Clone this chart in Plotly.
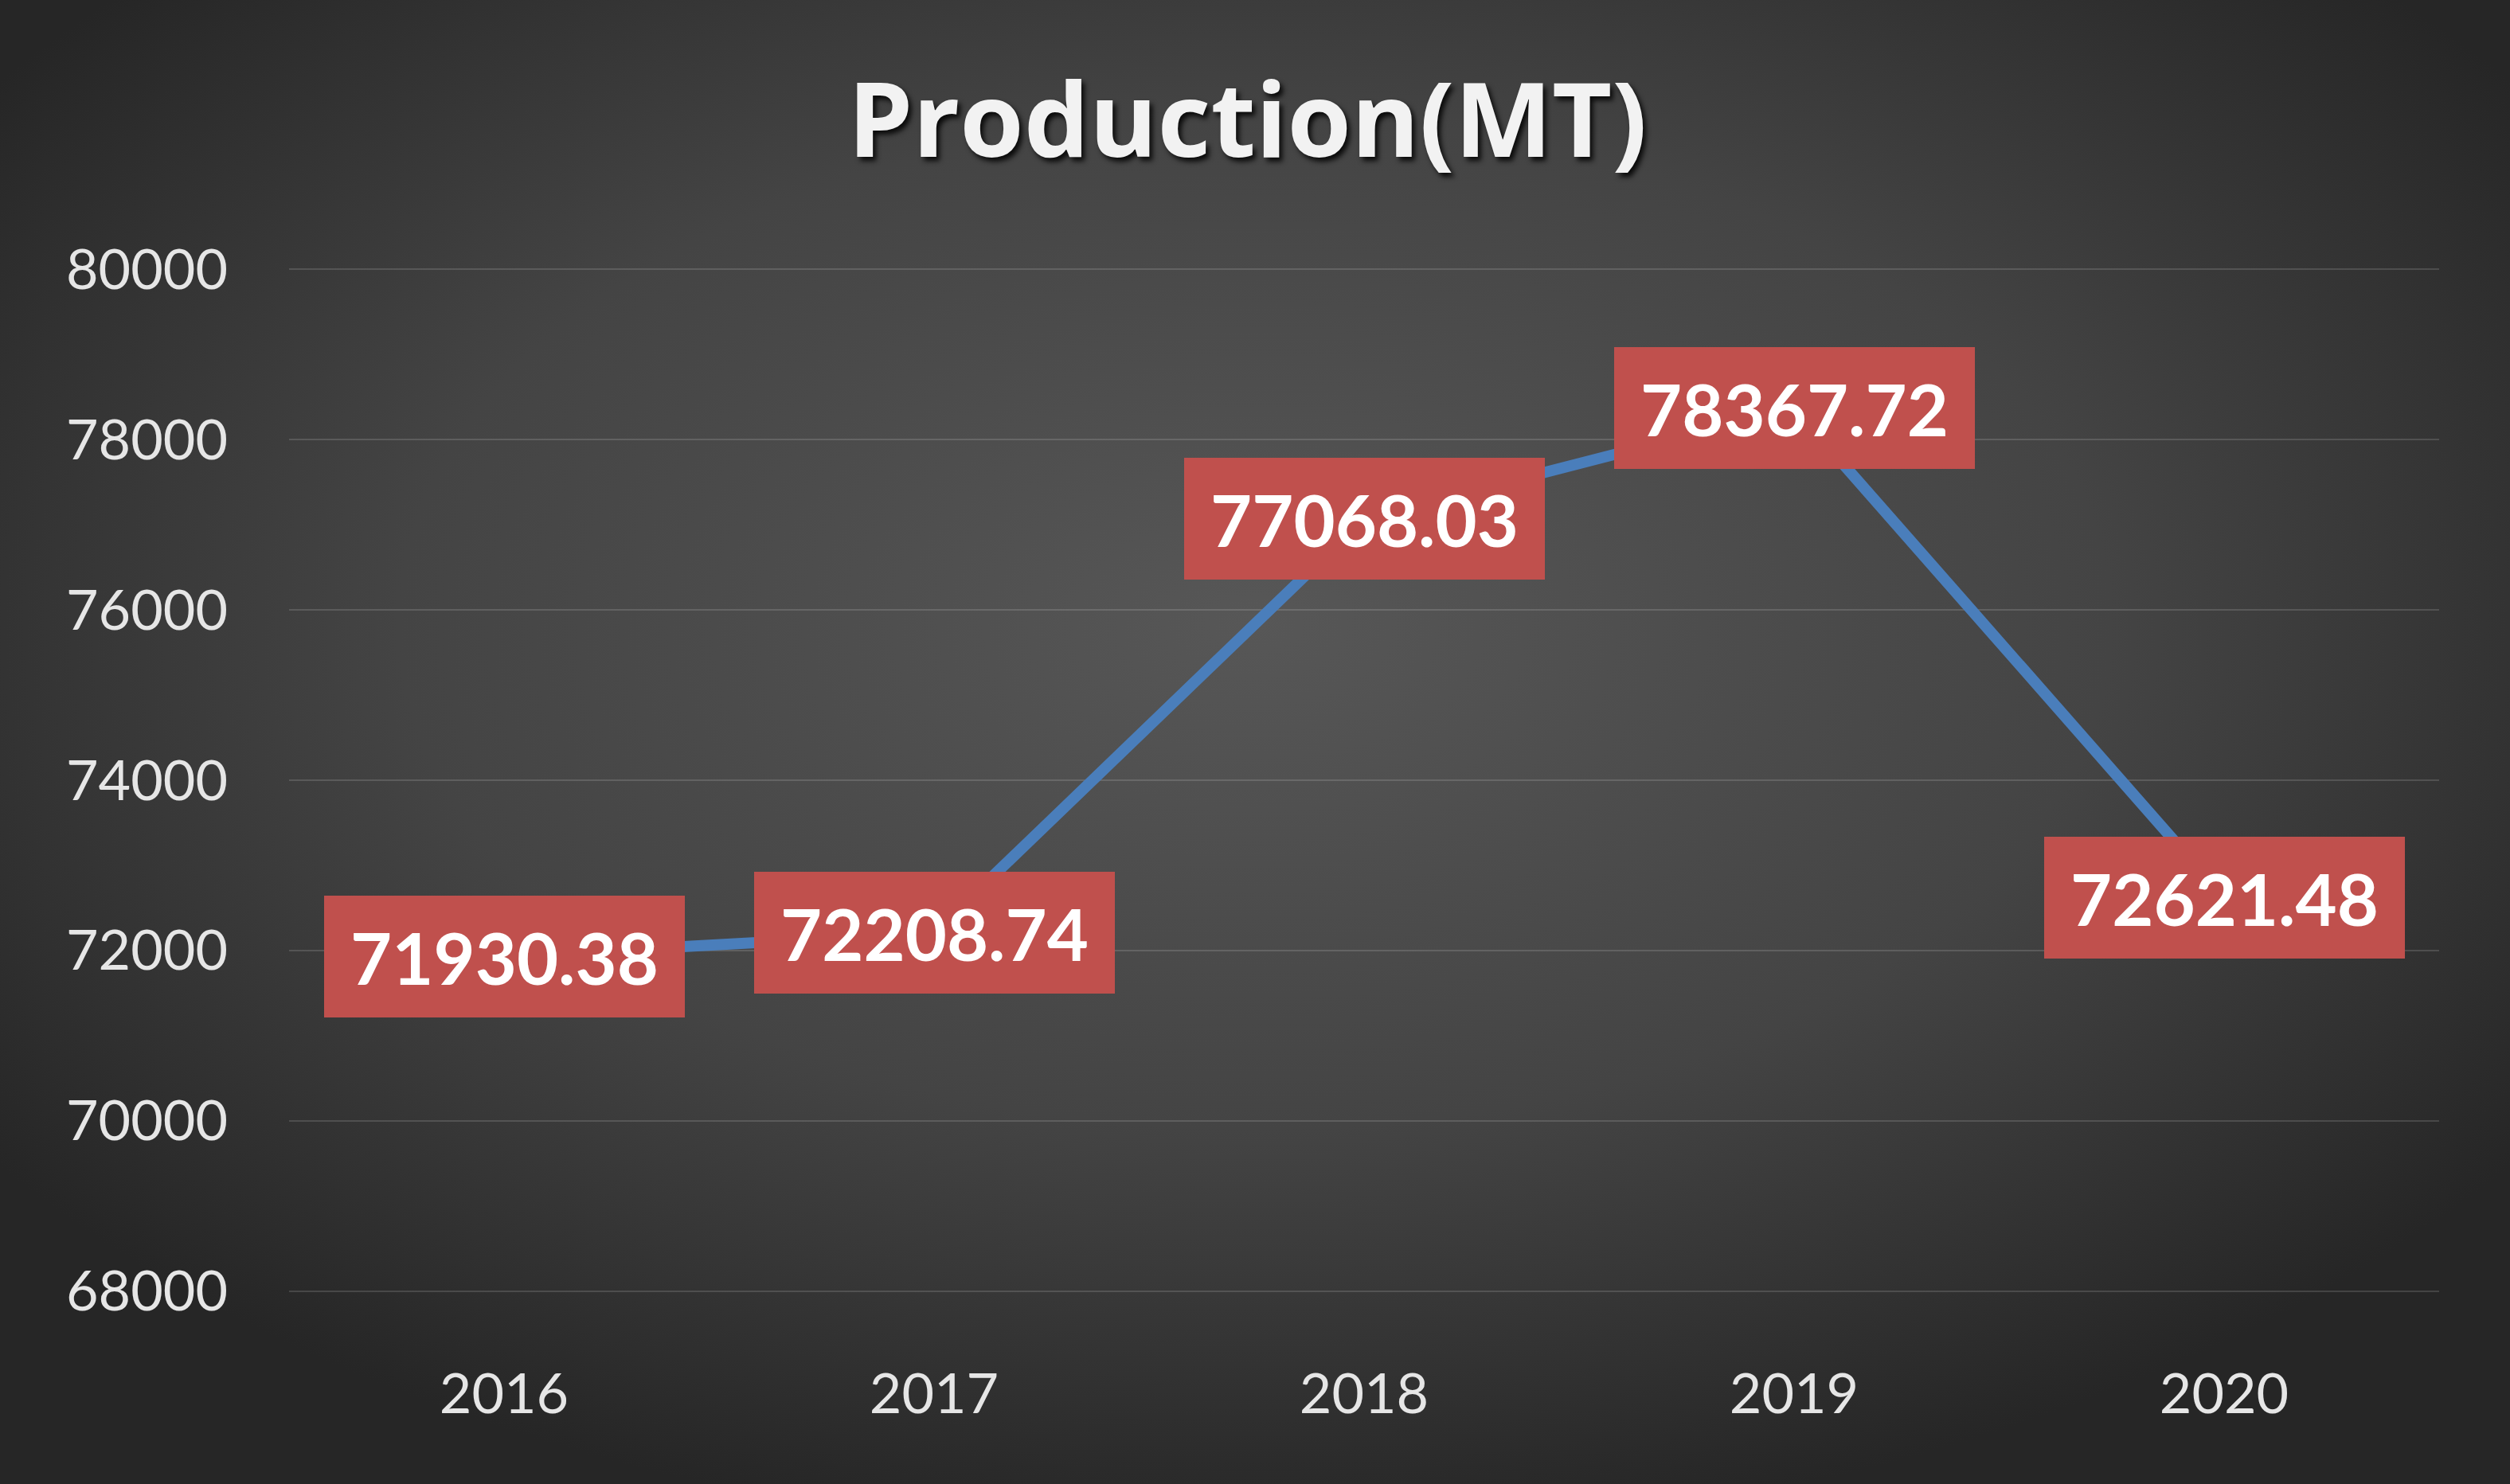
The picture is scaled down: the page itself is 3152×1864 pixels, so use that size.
import plotly.graph_objects as go
import urllib.parse

years = ["2016", "2017", "2018", "2019", "2020"]
production = [71930.38, 72208.74, 77068.03, 78367.72, 72621.48]
label_texts = ["71930.38", "72208.74", "77068.03", "78367.72", "72621.48"]
y_ticks = [68000, 70000, 72000, 74000, 76000, 78000, 80000]

W, H = 3152, 1864
L, R, T, B = 363, 89, 336, 240
PW, PH = W - L - R, H - T - B

svg = (
    '<svg xmlns="http://www.w3.org/2000/svg" width="3152" height="1864" preserveAspectRatio="none">'
    '<defs><radialGradient id="g" cx="0.5" cy="0.42" r="0.62" gradientUnits="objectBoundingBox">'
    '<stop offset="0" stop-color="#575757"/><stop offset="0.55" stop-color="#444444"/>'
    '<stop offset="1" stop-color="#262626"/></radialGradient></defs>'
    '<rect width="3152" height="1864" fill="url(#g)"/></svg>'
)
bg_uri = "data:image/svg+xml;charset=utf-8," + urllib.parse.quote(svg)

fig = go.Figure()
fig.add_trace(go.Scatter(
    x=list(range(len(years))), y=production, mode="lines",
    line=dict(color="#4A7EBB", width=14),
    hoverinfo="skip", showlegend=False,
))

for i, (val, txt) in enumerate(zip(production, label_texts)):
    fig.add_annotation(
        x=i, y=val, xref="x", yref="y", text="<b>" + txt + "</b>", showarrow=False,
        xanchor="center", yanchor="middle",
        bgcolor="#C0504D", borderpad=0, borderwidth=0,
        width=453, height=153,
        font=dict(family="Lato", size=90, color="white"),
    )

fig.update_layout(
    width=W, height=H,
    margin=dict(l=L, r=R, t=T, b=B),
    paper_bgcolor="#333333",
    plot_bgcolor="rgba(0,0,0,0)",
    images=[dict(
        source=bg_uri, xref="paper", yref="paper",
        x=-L / PW, y=1 + T / PH, sizex=W / PW, sizey=H / PH,
        xanchor="left", yanchor="top", sizing="stretch", layer="below",
    )],
    title=dict(
        text="<b>Production(MT)</b>", x=0.497, xanchor="center",
        y=1 - 151 / H, yanchor="middle", xref="container", yref="container",
        font=dict(family="Open Sans", size=130, color="#F2F2F2",
                  shadow="4px 5px 6px rgba(0,0,0,0.85)"),
    ),
    xaxis=dict(
        type="linear", range=[-0.5, 4.5],
        tickvals=list(range(len(years))), ticktext=years,
        showgrid=False, zeroline=False, showline=False, ticks="",
        tickfont=dict(family="Lato", size=70, color="#E6E6E6"),
        ticklabelstandoff=80,
    ),
    yaxis=dict(
        range=[67980, 80020], tickvals=y_ticks,
        ticktext=[str(v) for v in y_ticks],
        showgrid=True, gridcolor="rgba(255,255,255,0.14)", gridwidth=2,
        zeroline=False, showline=False, ticks="",
        tickfont=dict(family="Lato", size=70, color="#E6E6E6"),
        ticklabelstandoff=76,
    ),
)

fig.write_html("out.html")
